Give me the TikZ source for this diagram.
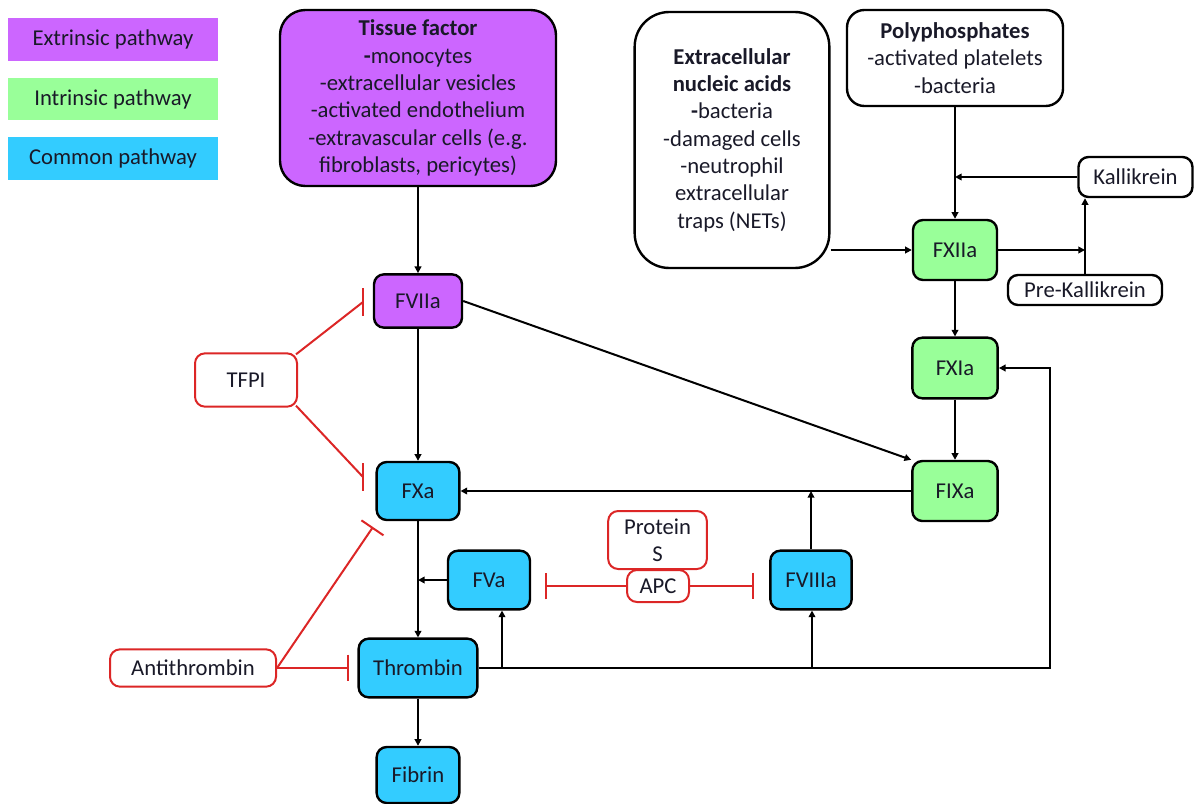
\documentclass[tikz,border=0pt]{standalone}
\usepackage{fontspec}
\setmainfont{Carlito}
\usetikzlibrary{arrows.meta,calc}
\definecolor{purp}{RGB}{204,102,255}
\definecolor{grn}{RGB}{153,255,153}
\definecolor{blu}{RGB}{51,204,255}
\definecolor{rd}{RGB}{220,38,38}
\definecolor{txt}{RGB}{25,25,40}
\begin{document}
\begin{tikzpicture}[x=0.75pt,y=-0.75pt,
 font=\fontsize{17}{20.5}\selectfont,
 every node/.style={text=txt, inner sep=0pt},
 box/.style={draw=black, line width=1.8pt, rounded corners=7.5pt, align=center},
 leg/.style={minimum width=157.5pt, minimum height=32pt},
 rbox/.style={draw=rd, line width=1.5pt, rounded corners=7.5pt, fill=white, align=center},
 arr/.style={line width=1.5pt, -{Triangle[length=5pt,width=5pt]}},
 inh/.style={draw=rd, line width=1.5pt, -{Bar[width=20pt]}},
 redl/.style={draw=rd, line width=1.5pt}]
\useasboundingbox (0,0) rectangle (1194,803);
% legend
\node[leg, fill=purp] (lext) at (113,39.5) {Extrinsic pathway};
\node[leg, fill=grn] (lint) at (113,99) {Intrinsic pathway};
\node[leg, fill=blu] (lcom) at (113,158.5) {Common pathway};
% main nodes
\node[box, fill=purp, rounded corners=19pt, minimum width=207pt, minimum height=132pt] (tf) at (418,98)
 {\textbf{Tissue factor}\\\textbf{-}monocytes\\-extracellular vesicles\\-activated endothelium\\-extravascular cells (e.g.\\fibroblasts, pericytes)};
\node[box, fill=purp, minimum width=66pt, minimum height=40pt] (f7) at (418,301) {FVIIa};
\node[box, fill=blu, minimum width=62pt, minimum height=43.5pt] (f10) at (418,491) {FXa};
\node[box, fill=blu, minimum width=61.5pt, minimum height=44pt] (f5) at (489,580) {FVa};
\node[box, fill=blu, minimum width=89pt, minimum height=44pt] (thr) at (418,668) {Thrombin};
\node[box, fill=blu, minimum width=62pt, minimum height=42pt] (fib) at (418,775) {Fibrin};
\node[box, fill=blu, minimum width=61pt, minimum height=44pt] (f8) at (811,580) {FVIIIa};
\node[box, fill=grn, minimum width=63pt, minimum height=45pt] (f12) at (955,250) {FXIIa};
\node[box, fill=grn, minimum width=64pt, minimum height=45.5pt] (f11) at (955,368) {FXIa};
\node[box, fill=grn, minimum width=64pt, minimum height=45pt] (f9) at (955,491) {FIXa};
\node[box, rounded corners=26pt, minimum width=146pt, minimum height=192pt] (nuc) at (732,140)
 {\textbf{Extracellular}\\\textbf{nucleic acids}\\\textbf{-}bacteria\\-damaged cells\\-neutrophil\\extracellular\\traps (NETs)};
\node[box, rounded corners=13pt, minimum width=162pt, minimum height=72pt] (poly) at (955,58)
 {\textbf{Polyphosphates}\\-activated platelets\\-bacteria};
\node[box, minimum width=85.5pt, minimum height=30pt] (kal) at (1135.5,177) {Kallikrein};
\node[box, minimum width=115.5pt, minimum height=22.5pt] (pk) at (1085,290) {Pre-Kallikrein};
% inhibitors
\node[rbox, minimum width=74pt, minimum height=43.5pt] (ps) at (657.5,540) {Protein\\S};
\node[rbox, minimum width=46.5pt, minimum height=24pt] (apc) at (658,586) {APC};
\node[rbox, minimum width=76.5pt, minimum height=40pt] (tfpi) at (246,380) {TFPI};
\node[rbox, minimum width=124.5pt, minimum height=28pt] (at) at (193,668) {Antithrombin};
% connectors
\draw[arr] (tf.south) -- (f7.north);
\draw[arr] (f7.south) -- (f10.north);
\draw[arr] (f7.east) -- (f9.north west);
\draw[arr] (f12.south) -- (f11.north);
\draw[arr] (f11.south) -- (f9.north);
\draw[arr] (f9.west) -- (f10.east);
\draw[arr] (f8.north) -- (f8.north |- f9.west);
\draw[arr] (f10.south) -- (thr.north);
\draw[arr] (f5.west) -- (f5.west -| f10.south);
\coordinate (c1) at (1050,668);
\draw[arr] (thr.east) -- (c1) |- (f11.east);
\coordinate (b1) at (502,668);
\coordinate (b2) at (812,668);
\draw[arr] (b1) -- (b1 |- f5.south);
\draw[arr] (b2) -- (b2 |- f8.south);
\draw[arr] (thr.south) -- (fib.north);
\draw[arr] (poly.south) -- (f12.north);
\draw[arr] (kal.west) -- (kal.west -| poly.south);
\draw[arr] (nuc.east |- f12.west) -- (f12.west);
\draw[arr] (f12.east) -- (f12.east -| pk.north);
\draw[arr] (pk.north) -- (pk.north |- kal.south);
% inhibition
\coordinate (t1) at (363,302);
\coordinate (t2) at (363,477);
\draw[redl] ($(tfpi.north east)+(-2,2)$) -- (t1);
\draw[redl] ($(t1)+(0,-14)$) -- ($(t1)+(0,14)$);
\draw[redl] ($(tfpi.south east)+(-2,-2)$) -- (t2);
\draw[redl] ($(t2)+(0,-14)$) -- ($(t2)+(0,14)$);
\coordinate (a1) at (373,527);
\coordinate (a2) at (349,668);
\draw[inh] (at.east) -- (a1);
\draw[inh] (at.east) -- (a2);
\coordinate (p1) at (545,586);
\coordinate (p2) at (754,586);
\draw[inh] (apc.west) -- (p1);
\draw[inh] (apc.east) -- (p2);
\end{tikzpicture}
\end{document}
